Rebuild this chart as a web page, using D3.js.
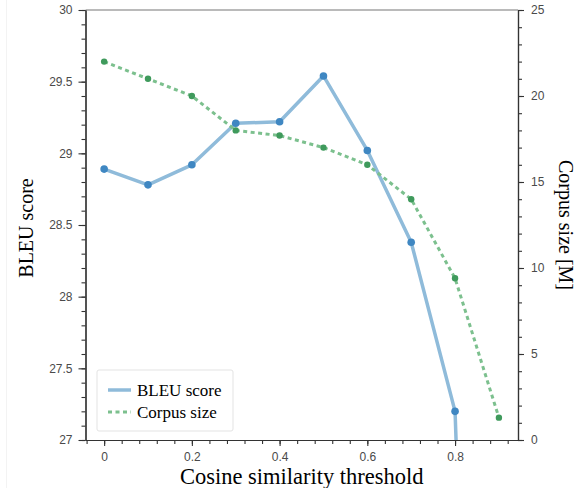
<!DOCTYPE html>
<html>
<head>
<meta charset="utf-8">
<script src="https://cdn.jsdelivr.net/npm/d3@7"></script>
<style>
html,body{margin:0;padding:0;background:#fff;}
svg{display:block;}
</style>
</head>
<body>
<svg id="chart" width="585" height="488"></svg>
<script>
const thresholds = [0, 0.1, 0.2, 0.3, 0.4, 0.5, 0.6, 0.7, 0.8, 0.9];
const bleuScores = [28.89, 28.78, 28.92, 29.21, 29.22, 29.54, 29.02, 28.38, 27.20, 18.5];
const corpusSizes = [22.0, 21.0, 20.0, 18.0, 17.7, 17.0, 16.0, 14.0, 9.4, 1.3];
const xTicks = [0, 0.2, 0.4, 0.6, 0.8];
const xTickLabels = ["0", "0.2", "0.4", "0.6", "0.8"];
const leftTicks = [27, 27.5, 28, 28.5, 29, 29.5, 30];
const leftTickLabels = ["27", "27.5", "28", "28.5", "29", "29.5", "30"];
const rightTicks = [0, 5, 10, 15, 20, 25];
const rightTickLabels = ["0", "5", "10", "15", "20", "25"];
const seriesNames = ["BLEU score", "Corpus size"];
const axisTitles = {x: "Cosine similarity threshold", left: "BLEU score", right: "Corpus size [M]"};

const L = 85.5, R = 518, T = 10, B = 440;
const svg = d3.select("#chart");

// faint figure edge
svg.append("line").attr("x1", 6.5).attr("x2", 6.5).attr("y1", 0).attr("y2", 488)
  .attr("stroke", "#f3f3f3").attr("stroke-width", 1);

const x = d3.scaleLinear().domain([-0.0425, 0.9435]).range([L, R]);
const yL = d3.scaleLinear().domain([27, 30]).range([B, T]);
const yR = d3.scaleLinear().domain([0, 25]).range([B, T]);

const blue = "#8fbbda", blueDot = "#3f87c2";
const green = "#7cc08e", greenDot = "#3f9a5c";
const tickFont = "'Liberation Sans', Arial, sans-serif";
const serif = "'Liberation Serif', 'Times New Roman', serif";

svg.append("defs").append("clipPath").attr("id", "clip")
  .append("rect").attr("x", L).attr("y", T).attr("width", R - L).attr("height", B - T);

// top frame line
svg.append("line").attr("x1", L).attr("x2", R).attr("y1", T).attr("y2", T)
  .attr("stroke", "#777").attr("stroke-width", 1.2);

function styleAxis(g) {
  g.select(".domain").attr("stroke", "#333").attr("stroke-width", 1.2);
  g.selectAll(".tick line").attr("stroke", "#333").attr("stroke-width", 1.1);
  g.selectAll(".tick text").attr("fill", "#4a4a4a").style("font-family", tickFont).style("font-size", "12px");
}

// minor ticks
const xMinor = d3.range(-0.04, 0.93, 0.04);
svg.append("g").attr("transform", `translate(0,${B})`)
  .call(d3.axisBottom(x).tickValues(xMinor).tickSize(4).tickSizeOuter(0).tickFormat(""))
  .call(styleAxis);
svg.append("g").attr("transform", `translate(${L},0)`)
  .call(d3.axisLeft(yL).tickValues(d3.range(27, 30.001, 0.1)).tickSize(4).tickSizeOuter(0).tickFormat(""))
  .call(styleAxis);
svg.append("g").attr("transform", `translate(${R},0)`)
  .call(d3.axisRight(yR).tickValues(d3.range(0, 25.001, 1)).tickSize(4).tickSizeOuter(0).tickFormat(""))
  .call(styleAxis);

// major ticks
svg.append("g").attr("transform", `translate(0,${B})`)
  .call(d3.axisBottom(x).tickValues(xTicks).tickSize(6).tickPadding(6).tickSizeOuter(0)
    .tickFormat((d, i) => xTickLabels[i]))
  .call(styleAxis);
svg.append("g").attr("transform", `translate(${L},0)`)
  .call(d3.axisLeft(yL).tickValues(leftTicks).tickSize(7).tickPadding(6).tickSizeOuter(0)
    .tickFormat((d, i) => leftTickLabels[i]))
  .call(styleAxis);
svg.append("g").attr("transform", `translate(${R},0)`)
  .call(d3.axisRight(yR).tickValues(rightTicks).tickSize(6).tickPadding(7).tickSizeOuter(0)
    .tickFormat((d, i) => rightTickLabels[i]))
  .call(styleAxis);

const plot = svg.append("g").attr("clip-path", "url(#clip)");

// BLEU line
plot.append("path")
  .datum(thresholds.map((t, i) => [t, bleuScores[i]]))
  .attr("fill", "none").attr("stroke", blue).attr("stroke-width", 3.5)
  .attr("stroke-linejoin", "round")
  .attr("d", d3.line().x(d => x(d[0])).y(d => yL(d[1])));
plot.selectAll(".bdot").data(thresholds.map((t, i) => [t, bleuScores[i]]))
  .join("circle").attr("class", "bdot")
  .attr("cx", d => x(d[0])).attr("cy", d => yL(d[1])).attr("r", 3.8)
  .attr("fill", blueDot);

// Corpus line
plot.append("path")
  .datum(thresholds.map((t, i) => [t, corpusSizes[i]]))
  .attr("fill", "none").attr("stroke", green).attr("stroke-width", 3)
  .attr("stroke-dasharray", "4,3.5")
  .attr("d", d3.line().x(d => x(d[0])).y(d => yR(d[1])));
plot.selectAll(".gdot").data(thresholds.map((t, i) => [t, corpusSizes[i]]))
  .join("circle").attr("class", "gdot")
  .attr("cx", d => x(d[0])).attr("cy", d => yR(d[1])).attr("r", 3.2)
  .attr("fill", greenDot);

// axis titles
svg.append("text").attr("x", (L + R) / 2).attr("y", 484).attr("text-anchor", "middle")
  .style("font-family", serif).style("font-size", "22.5px").attr("fill", "#000")
  .text(axisTitles.x);
svg.append("text").attr("transform", `translate(33,${(T + B) / 2 + 3}) rotate(-90)`)
  .attr("text-anchor", "middle")
  .style("font-family", serif).style("font-size", "20px").attr("fill", "#000")
  .text(axisTitles.left);
svg.append("text").attr("transform", `translate(559,${(T + B) / 2}) rotate(90)`)
  .attr("text-anchor", "middle")
  .style("font-family", serif).style("font-size", "20px").attr("fill", "#000")
  .text(axisTitles.right);

// legend
const lg = svg.append("g");
lg.append("rect").attr("x", 97).attr("y", 370).attr("width", 136).attr("height", 61)
  .attr("fill", "#fff").attr("stroke", "#e3e3e3").attr("stroke-width", 1).attr("rx", 2);
const legendItems = [
  {name: seriesNames[0], color: blue, dash: null, w: 3.5},
  {name: seriesNames[1], color: green, dash: "4,3.5", w: 3}
];
legendItems.forEach((it, i) => {
  const yy = 390 + i * 22;
  lg.append("line").attr("x1", 108).attr("x2", 131).attr("y1", yy).attr("y2", yy)
    .attr("stroke", it.color).attr("stroke-width", it.w)
    .attr("stroke-dasharray", it.dash);
  lg.append("text").attr("x", 137).attr("y", yy + 5.5)
    .style("font-family", serif).style("font-size", "17px").attr("fill", "#000")
    .text(it.name);
});
</script>
</body>
</html>
